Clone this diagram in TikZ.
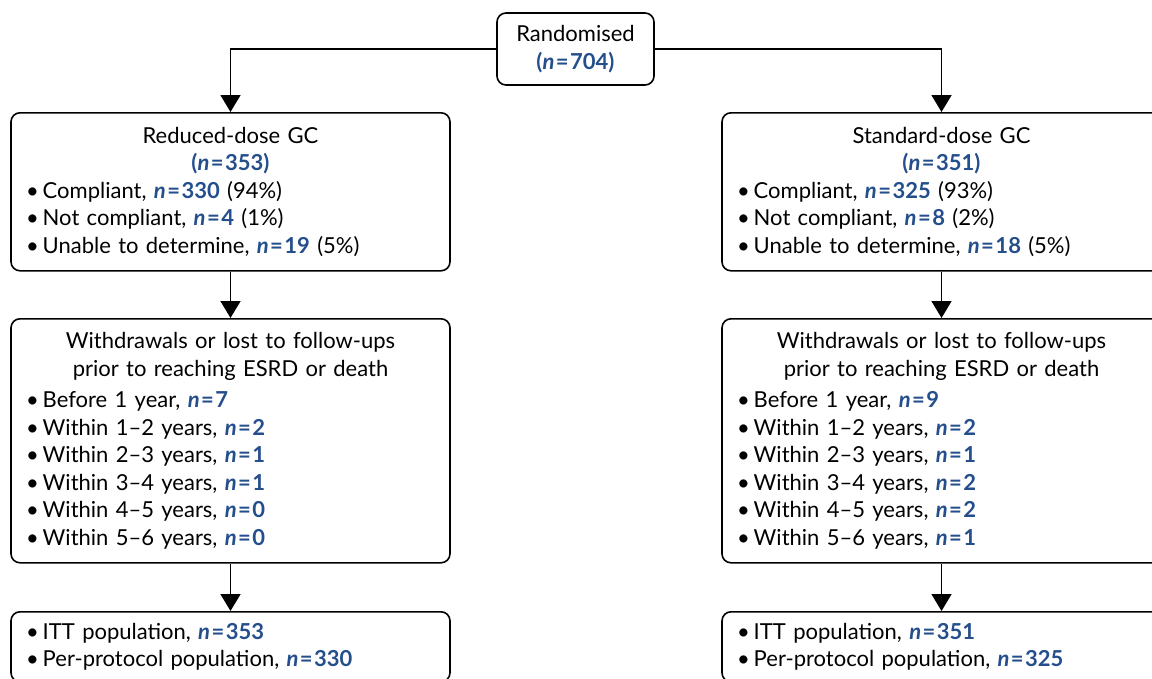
\documentclass[tikz,border=0pt]{standalone}
\usepackage{fontspec}
\setmainfont[WordSpace=0.8]{Lato}
\usetikzlibrary{arrows.meta}
\definecolor{nblue}{RGB}{36,78,140}
\newcommand\nval[1]{\textcolor{nblue}{\bfseries\itshape n\upshape\kern1.5pt=\kern1.5pt#1}}
\newcommand\npar[1]{\textcolor{nblue}{\bfseries(\itshape n\upshape\kern1.5pt=\kern1.5pt#1)}}
\newcommand\bul{•\kern4pt}
\begin{document}
\begin{tikzpicture}[x=1pt,y=-1pt,
  box/.style={draw, line width=1.6pt, rounded corners=9pt, inner xsep=15pt, inner ysep=0pt,
    text width=409pt, font=\fontsize{22}{27.5}\selectfont},
  topbox/.style={draw, line width=1.6pt, rounded corners=9pt, inner sep=0pt,
    minimum width=157pt, minimum height=72pt, align=center, font=\fontsize{22}{27.5}\selectfont},
  arr/.style={line width=1.6pt, -{Triangle[length=17pt,width=20pt]}},
  plain/.style={line width=1.6pt}]
\useasboundingbox (0,0) rectangle (1152,678);

\node[topbox] (r) at (575.5,49) {Randomised\\\npar{704}};

\node[box, anchor=north, minimum height=158pt] (l1) at (230.5,112)
{\centering Reduced-dose GC\\\npar{353}\par\raggedright
\bul Compliant, \nval{330} (94\%)\\
\bul Not compliant, \nval{4} (1\%)\\
\bul Unable to determine, \nval{19} (5\%)\par};

\node[box, anchor=north, minimum height=158pt] (r1) at (941.5,112)
{\centering Standard-dose GC\\\npar{351}\par\raggedright
\bul Compliant, \nval{325} (93\%)\\
\bul Not compliant, \nval{8} (2\%)\\
\bul Unable to determine, \nval{18} (5\%)\par};

\node[box, anchor=north, minimum height=244pt] (l2) at (230.5,318)
{\centering Withdrawals or lost to follow-ups\\prior to reaching ESRD or death\par\vspace{4pt}\raggedright
\bul Before 1 year, \nval{7}\\
\bul Within 1–2 years, \nval{2}\\
\bul Within 2–3 years, \nval{1}\\
\bul Within 3–4 years, \nval{1}\\
\bul Within 4–5 years, \nval{0}\\
\bul Within 5–6 years, \nval{0}\par};

\node[box, anchor=north, minimum height=244pt] (r2) at (941.5,318)
{\centering Withdrawals or lost to follow-ups\\prior to reaching ESRD or death\par\vspace{4pt}\raggedright
\bul Before 1 year, \nval{9}\\
\bul Within 1–2 years, \nval{2}\\
\bul Within 2–3 years, \nval{1}\\
\bul Within 3–4 years, \nval{2}\\
\bul Within 4–5 years, \nval{2}\\
\bul Within 5–6 years, \nval{1}\par};

\node[box, anchor=north, minimum height=70pt] (l3) at (230.5,611)
{\raggedright
\bul ITT population, \nval{353}\\
\bul Per-protocol population, \nval{330}\par};

\node[box, anchor=north, minimum height=70pt] (r3) at (941.5,611)
{\raggedright
\bul ITT population, \nval{351}\\
\bul Per-protocol population, \nval{325}\par};

\draw[arr] (r.west) -| (l1.north);
\draw[arr] (r.east) -| (r1.north);
\draw[arr] (l1.south) -- (l2.north);
\draw[arr] (r1.south) -- (r2.north);
\draw[arr] (l2.south) -- (l3.north);
\draw[arr] (r2.south) -- (r3.north);
\end{tikzpicture}
\end{document}
